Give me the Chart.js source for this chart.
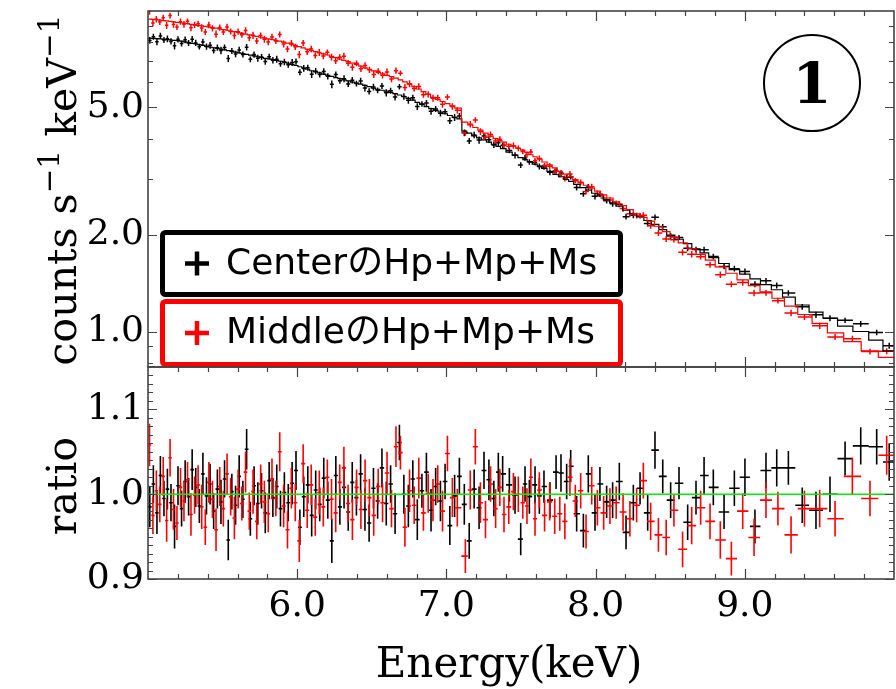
<!DOCTYPE html>
<html>
<head>
<meta charset="utf-8">
<script src="https://cdn.jsdelivr.net/npm/chart.js@4.4.1/dist/chart.umd.min.js"></script>
<style>
  html, body { margin: 0; padding: 0; background: #fff; }
  #wrap { position: relative; width: 896px; height: 689px; }
  #spec { position: absolute; left: 0; top: 0; }
  #ratio { position: absolute; left: 0; top: 362px; }
</style>
</head>
<body>
<div id="wrap">
  <canvas id="spec" width="896" height="369"></canvas>
  <canvas id="ratio" width="896" height="327"></canvas>
</div>
<script>
// axis ticks
const energyTicks = [6, 7, 8, 9];
const energyMinor = [5.2, 5.4, 5.6, 5.8, 6.2, 6.4, 6.6, 6.8, 7.2, 7.4, 7.6, 7.8,
                     8.2, 8.4, 8.6, 8.8, 9.2, 9.4, 9.6, 9.8];
const countTicks = [1, 2, 5];
const countMinor = [0.8, 0.9, 3, 4, 6, 7, 8, 9];
const ratioTicks = [0.9, 1.0, 1.1];
const ratioMinor = [0.91, 0.92, 0.93, 0.94, 0.95, 0.96, 0.97, 0.98, 0.99,
                    1.01, 1.02, 1.03, 1.04, 1.05, 1.06, 1.07, 1.08, 1.09,
                    1.11, 1.12, 1.13, 1.14];
const energyRange = [5, 10];
const unity = 1.0;

const seriesNames = ['CenterのHp+Mp+Ms', 'MiddleのHp+Mp+Ms'];

// Center region: bin centres (keV), model (counts/s/keV), data/model ratio, ratio error
const blackE = [
  5.012, 5.036, 5.060, 5.083, 5.107, 5.130, 5.154, 5.178, 5.201, 5.225,
  5.249, 5.272, 5.296, 5.320, 5.344, 5.368, 5.392, 5.416, 5.440, 5.465,
  5.489, 5.513, 5.538, 5.562, 5.587, 5.611, 5.636, 5.661, 5.686, 5.711,
  5.736, 5.761, 5.786, 5.812, 5.837, 5.863, 5.888, 5.914, 5.940, 5.966,
  5.992, 6.018, 6.044, 6.071, 6.097, 6.124, 6.151, 6.178, 6.205, 6.232,
  6.259, 6.286, 6.314, 6.342, 6.369, 6.397, 6.425, 6.454, 6.482, 6.511,
  6.539, 6.568, 6.597, 6.626, 6.656, 6.685, 6.715, 6.745, 6.775, 6.805,
  6.836, 6.866, 6.897, 6.928, 6.960, 6.991, 7.023, 7.055, 7.087, 7.120,
  7.153, 7.186, 7.219, 7.252, 7.285, 7.318, 7.348,
  7.377, 7.422, 7.460, 7.498, 7.527, 7.556, 7.594, 7.623, 7.654, 7.694,
  7.735, 7.768, 7.806, 7.833, 7.873, 7.918, 7.951, 7.996, 8.029, 8.074,
  8.114, 8.159, 8.204, 8.253, 8.298, 8.349, 8.398, 8.450, 8.503, 8.559,
  8.617, 8.673, 8.727, 8.789, 8.861, 8.930, 9.001, 9.068, 9.142, 9.214,
  9.292, 9.385, 9.477, 9.571, 9.672, 9.777, 9.884, 9.968
];
const blackModel = [
  8.22, 8.21, 8.20, 8.18, 8.16, 8.14, 8.12, 8.10, 8.08, 8.05,
  8.01, 7.97, 7.93, 7.89, 7.85, 7.81, 7.76, 7.72, 7.68, 7.64,
  7.60, 7.56, 7.52, 7.48, 7.44, 7.40, 7.36, 7.32, 7.28, 7.24,
  7.20, 7.16, 7.12, 7.09, 7.05, 7.01, 6.97, 6.92, 6.87, 6.82,
  6.76, 6.70, 6.64, 6.58, 6.51, 6.46, 6.41, 6.35, 6.30, 6.25,
  6.20, 6.15, 6.10, 6.05, 6.00, 5.96, 5.91, 5.86, 5.81, 5.75,
  5.70, 5.66, 5.62, 5.57, 5.52, 5.47, 5.41, 5.34, 5.27, 5.19,
  5.11, 5.03, 4.96, 4.90, 4.84, 4.78, 4.72, 4.66, 4.61, 4.22,
  4.16, 4.08, 4.02, 3.96, 3.90, 3.84, 3.78,
  3.72, 3.63, 3.55, 3.49, 3.44, 3.39, 3.33, 3.28, 3.23, 3.16,
  3.09, 3.04, 2.98, 2.94, 2.88, 2.81, 2.76, 2.70, 2.65, 2.58,
  2.52, 2.46, 2.39, 2.33, 2.28, 2.22, 2.16, 2.08, 2.00, 1.94,
  1.88, 1.81, 1.76, 1.70, 1.63, 1.56, 1.51, 1.46, 1.40, 1.35,
  1.28, 1.21, 1.15, 1.10, 1.04, 1.00, 0.94, 0.87
];
const blackRatio = [
  0.985, 1.012, 0.978, 1.022, 0.995, 1.006, 0.990, 0.962, 1.010, 0.983,
  1.015, 0.997, 1.029, 1.008, 0.986, 1.024, 0.998, 1.012, 0.980, 1.006,
  0.991, 1.018, 0.946, 1.003, 0.987, 1.021, 0.994, 1.053, 0.971, 1.010,
  0.989, 1.004, 0.978, 1.016, 0.996, 1.009, 0.983, 1.002, 0.990, 1.013,
  1.028, 0.961, 0.997, 1.011, 0.975, 1.005, 0.988, 1.019, 0.993, 0.945,
  1.022, 0.985, 1.008, 0.979, 1.014, 0.996, 1.024, 0.982, 0.966, 1.007,
  0.992, 1.031, 0.989, 1.012, 0.977, 1.061, 1.000, 0.986, 1.018, 0.970,
  1.004, 1.026, 0.981, 1.009, 0.992, 1.015, 0.963, 0.998, 1.021, 0.988,
  0.945, 1.006, 0.984, 1.028, 1.017, 0.995, 1.026,
  1.024, 1.011, 0.999, 0.947, 1.012, 0.997, 1.011, 0.998, 1.009, 0.993,
  1.026, 1.025, 1.015, 1.033, 0.977, 0.957, 1.024, 0.978, 1.012, 0.991,
  0.993, 1.015, 0.955, 0.990, 1.007, 0.978, 1.052, 1.021, 0.993, 1.013,
  0.967, 0.996, 1.022, 1.008, 0.979, 1.007, 1.020, 0.962, 1.028, 1.031,
  1.031, 0.987, 0.981, 1.000, 1.042, 1.057, 1.056, 1.038
];
const blackErr = [
  0.024, 0.022, 0.025, 0.023, 0.021, 0.024, 0.022, 0.026, 0.023, 0.021,
  0.025, 0.022, 0.024, 0.023, 0.020, 0.025, 0.022, 0.024, 0.021, 0.023,
  0.026, 0.022, 0.024, 0.021, 0.023, 0.025, 0.022, 0.024, 0.020, 0.023,
  0.025, 0.021, 0.024, 0.022, 0.023, 0.026, 0.021, 0.024, 0.022, 0.025,
  0.023, 0.021, 0.024, 0.022, 0.025, 0.023, 0.020, 0.024, 0.022, 0.026,
  0.023, 0.021, 0.025, 0.022, 0.024, 0.021, 0.023, 0.025, 0.022, 0.024,
  0.021, 0.023, 0.026, 0.022, 0.024, 0.021, 0.023, 0.025, 0.022, 0.024,
  0.020, 0.023, 0.025, 0.022, 0.024, 0.021, 0.023, 0.025, 0.022, 0.024,
  0.021, 0.023, 0.025, 0.022, 0.024, 0.021, 0.023,
  0.021, 0.020, 0.022, 0.019, 0.021, 0.020, 0.022, 0.021, 0.019, 0.021,
  0.020, 0.022, 0.021, 0.019, 0.021, 0.020, 0.022, 0.021, 0.020, 0.019,
  0.021, 0.022, 0.020, 0.021, 0.019, 0.021, 0.022, 0.020, 0.021, 0.019,
  0.021, 0.020, 0.022, 0.021, 0.020, 0.021, 0.022, 0.020, 0.021, 0.022,
  0.020, 0.021, 0.022, 0.021, 0.020, 0.022, 0.021, 0.022
];

// Middle region
const redE = [
  5.010, 5.033, 5.056, 5.079, 5.102, 5.125, 5.148, 5.171, 5.194, 5.218,
  5.241, 5.265, 5.288, 5.312, 5.336, 5.360, 5.384, 5.408, 5.432, 5.456,
  5.481, 5.505, 5.530, 5.554, 5.579, 5.604, 5.629, 5.654, 5.679, 5.704,
  5.729, 5.755, 5.780, 5.806, 5.831, 5.857, 5.883, 5.909, 5.935, 5.961,
  5.987, 6.014, 6.040, 6.067, 6.094, 6.121, 6.148, 6.175, 6.202, 6.230,
  6.258, 6.285, 6.313, 6.341, 6.370, 6.398, 6.427, 6.455, 6.484, 6.513,
  6.543, 6.572, 6.602, 6.632, 6.662, 6.692, 6.722, 6.753, 6.784, 6.815,
  6.846, 6.878, 6.910, 6.942, 6.974, 7.007, 7.040, 7.073,
  7.127, 7.160, 7.194, 7.228, 7.262, 7.296, 7.330, 7.358,
  7.386, 7.418, 7.449, 7.482, 7.512, 7.540, 7.566, 7.594, 7.623, 7.658,
  7.692, 7.726, 7.760, 7.794, 7.828, 7.864, 7.900, 7.936, 7.974, 8.012,
  8.054, 8.096, 8.138, 8.184, 8.230, 8.275, 8.320, 8.369, 8.421, 8.473,
  8.525, 8.583, 8.644, 8.704, 8.767, 8.836, 8.910, 8.986, 9.062, 9.142,
  9.222, 9.310, 9.400, 9.502, 9.605, 9.721, 9.839, 9.951
];
const redModel = [
  9.43, 9.41, 9.39, 9.36, 9.33, 9.31, 9.28, 9.25, 9.22, 9.19,
  9.16, 9.13, 9.09, 9.06, 9.02, 8.99, 8.95, 8.92, 8.88, 8.84,
  8.80, 8.75, 8.71, 8.66, 8.62, 8.57, 8.52, 8.47, 8.42, 8.37,
  8.33, 8.28, 8.24, 8.19, 8.15, 8.10, 8.05, 8.00, 7.94, 7.88,
  7.81, 7.74, 7.67, 7.60, 7.53, 7.47, 7.41, 7.35, 7.29, 7.22,
  7.15, 7.08, 7.01, 6.95, 6.88, 6.81, 6.73, 6.65, 6.58, 6.50,
  6.43, 6.37, 6.30, 6.24, 6.17, 6.10, 6.01, 5.91, 5.81, 5.71,
  5.60, 5.49, 5.38, 5.30, 5.22, 5.14, 5.06, 4.98,
  4.50, 4.41, 4.33, 4.25, 4.16, 4.07, 4.00, 3.95,
  3.90, 3.84, 3.79, 3.73, 3.68, 3.62, 3.56, 3.51, 3.45, 3.38,
  3.31, 3.24, 3.16, 3.10, 3.04, 2.98, 2.91, 2.86, 2.80, 2.74,
  2.67, 2.61, 2.54, 2.47, 2.40, 2.33, 2.27, 2.21, 2.13, 2.05,
  1.97, 1.89, 1.81, 1.74, 1.67, 1.59, 1.52, 1.45, 1.39, 1.33,
  1.27, 1.20, 1.13, 1.06, 0.99, 0.93, 0.87, 0.83
];
const redRatio = [
  1.058, 0.975, 1.004, 0.988, 1.021, 0.969, 1.043, 0.982, 0.966, 1.008,
  0.992, 1.017, 0.976, 0.999, 1.011, 0.985, 0.961, 1.014, 0.994, 0.958,
  1.009, 0.983, 1.024, 0.997, 0.972, 1.006, 0.989, 1.026, 0.980, 1.003,
  0.968, 1.012, 0.991, 0.977, 1.018, 0.995, 1.050, 0.986, 0.958, 1.007,
  0.990, 0.945, 1.036, 0.981, 1.011, 0.973, 1.002, 0.985, 1.020, 0.994,
  0.978, 1.014, 1.031, 0.989, 0.970, 1.008, 0.982, 1.016, 0.996, 0.975,
  1.009, 0.990, 1.025, 0.983, 1.056, 1.049, 0.961, 1.004, 0.987, 1.019,
  0.978, 1.001, 0.993, 1.012, 0.980, 1.048, 0.996, 0.984,
  0.927, 1.005, 1.056, 0.990, 0.970, 1.012, 0.983, 1.008,
  0.976, 0.985, 1.003, 1.000, 0.990, 0.986, 1.020, 0.971, 1.005, 0.975,
  0.991, 0.974, 0.977, 0.968, 1.020, 0.992, 1.004, 0.956, 1.010, 0.984,
  0.978, 0.986, 0.990, 0.979, 0.971, 0.987, 1.016, 0.968, 0.952, 0.949,
  0.981, 0.935, 0.963, 0.984, 0.968, 0.946, 0.924, 0.980, 0.949, 0.993,
  0.983, 0.952, 0.983, 0.983, 0.971, 1.021, 0.995, 1.046
];
const redErr = [
  0.025, 0.022, 0.024, 0.021, 0.023, 0.025, 0.022, 0.024, 0.020, 0.023,
  0.024, 0.021, 0.025, 0.022, 0.023, 0.026, 0.021, 0.024, 0.022, 0.025,
  0.023, 0.021, 0.024, 0.022, 0.025, 0.023, 0.020, 0.024, 0.022, 0.026,
  0.021, 0.023, 0.025, 0.022, 0.024, 0.021, 0.023, 0.025, 0.022, 0.024,
  0.022, 0.025, 0.023, 0.021, 0.024, 0.022, 0.026, 0.023, 0.021, 0.024,
  0.023, 0.021, 0.025, 0.022, 0.024, 0.021, 0.023, 0.025, 0.022, 0.024,
  0.021, 0.023, 0.025, 0.022, 0.024, 0.020, 0.023, 0.025, 0.022, 0.024,
  0.021, 0.023, 0.025, 0.022, 0.024, 0.021, 0.023, 0.022,
  0.020, 0.023, 0.021, 0.024, 0.022, 0.021, 0.023, 0.022,
  0.021, 0.020, 0.022, 0.021, 0.019, 0.021, 0.022, 0.020, 0.021, 0.019,
  0.022, 0.021, 0.020, 0.021, 0.022, 0.019, 0.021, 0.020, 0.022, 0.021,
  0.020, 0.021, 0.019, 0.022, 0.021, 0.020, 0.021, 0.022, 0.020, 0.021,
  0.019, 0.021, 0.022, 0.020, 0.021, 0.022, 0.020, 0.021, 0.022, 0.021,
  0.020, 0.022, 0.021, 0.022, 0.021, 0.022, 0.021, 0.023
];

const BLACK = '#000000';
const RED = '#ff0000';
const GREEN = '#00ee00';
const FRAME = '#444444';
const SERIF = '"DejaVu Serif", "Liberation Serif", serif';
const SANS = '"DejaVu Sans", "Noto Sans CJK JP", sans-serif';

// bin edges halfway between neighbouring centres
function binEdges(c) {
  const e = [];
  for (let i = 1; i < c.length; i++) e.push((c[i - 1] + c[i]) / 2);
  e.unshift(2 * c[0] - e[0]);
  e.push(2 * c[c.length - 1] - e[e.length - 1]);
  return e;
}

function buildSeries(E, model, ratio, err) {
  const e = binEdges(E);
  const step = E.map((c, i) => ({ x: e[i], y: model[i] }));
  step.push({ x: e[E.length], y: model[E.length - 1] });
  const spec = E.map((c, i) => ({
    x: c, y: model[i] * ratio[i], xl: e[i], xh: e[i + 1],
    yl: model[i] * (ratio[i] - err[i]), yh: model[i] * (ratio[i] + err[i])
  }));
  const rat = E.map((c, i) => ({
    x: c, y: ratio[i], xl: e[i], xh: e[i + 1],
    yl: ratio[i] - err[i], yh: ratio[i] + err[i]
  }));
  return { step, spec, rat };
}

const center = buildSeries(blackE, blackModel, blackRatio, blackErr);
const middle = buildSeries(redE, redModel, redRatio, redErr);

// crosses: bin width horizontally, error vertically
const errorBars = {
  id: 'errorBars',
  beforeDatasetsDraw(chart) {
    const { ctx, chartArea: a } = chart;
    const xs = chart.scales.x, ys = chart.scales.y;
    ctx.save();
    ctx.beginPath();
    ctx.rect(a.left, a.top, a.right - a.left, a.bottom - a.top);
    ctx.clip();
    chart.data.datasets.forEach(ds => {
      if (!ds.crosses) return;
      ctx.strokeStyle = ds.crossColor;
      ctx.lineWidth = ds.crossWidth;
      ctx.beginPath();
      for (const p of ds.data) {
        const px = xs.getPixelForValue(p.x), py = ys.getPixelForValue(p.y);
        ctx.moveTo(xs.getPixelForValue(p.xl), py);
        ctx.lineTo(xs.getPixelForValue(p.xh), py);
        ctx.moveTo(px, ys.getPixelForValue(p.yl));
        ctx.lineTo(px, ys.getPixelForValue(p.yh));
      }
      ctx.stroke();
    });
    ctx.restore();
  }
};

// box round the plot with inward ticks on all four sides
const frameTicks = {
  id: 'frameTicks',
  afterDraw(chart, args, o) {
    const { ctx, chartArea: a } = chart;
    const xs = chart.scales.x, ys = chart.scales.y;
    ctx.save();
    ctx.strokeStyle = FRAME;
    ctx.lineWidth = 1.2;
    ctx.beginPath();
    const xt = (list, len) => list.forEach(v => {
      const px = Math.round(xs.getPixelForValue(v)) + 0.5;
      ctx.moveTo(px, a.top); ctx.lineTo(px, a.top + len);
      ctx.moveTo(px, a.bottom); ctx.lineTo(px, a.bottom - len);
    });
    const yt = (list, len) => list.forEach(v => {
      const py = Math.round(ys.getPixelForValue(v)) + 0.5;
      ctx.moveTo(a.left, py); ctx.lineTo(a.left + len, py);
      ctx.moveTo(a.right, py); ctx.lineTo(a.right - len, py);
    });
    xt(energyTicks, 10);
    xt(energyMinor, 5);
    yt(o.major, 9);
    yt(o.minor, 5);
    ctx.stroke();
    ctx.lineWidth = 1.6;
    ctx.strokeRect(a.left, a.top, a.right - a.left, a.bottom - a.top);
    ctx.restore();
  }
};

// text with raised parts, written upwards when rotated
function drawRich(ctx, parts, size) {
  let w = 0;
  const runs = parts.map(p => {
    const fs = p.sup ? size * 0.72 : size;
    ctx.font = fs + 'px ' + SERIF;
    const run = { t: p.t, fs, dy: p.sup ? -size * 0.42 : 0, w: ctx.measureText(p.t).width };
    w += run.w;
    return run;
  });
  let x = -w / 2;
  ctx.textBaseline = 'alphabetic';
  ctx.textAlign = 'left';
  for (const r of runs) {
    ctx.font = r.fs + 'px ' + SERIF;
    ctx.fillText(r.t, x, r.dy);
    x += r.w;
  }
}

const axisTitles = {
  id: 'axisTitles',
  afterDraw(chart, args, o) {
    const { ctx } = chart;
    ctx.save();
    ctx.fillStyle = '#000';
    for (const t of o.items) {
      ctx.save();
      ctx.translate(t.x, t.y);
      if (t.vertical) ctx.rotate(-Math.PI / 2);
      drawRich(ctx, t.parts, t.size);
      ctx.restore();
    }
    ctx.restore();
  }
};

// two boxed legend entries and the circled panel number
const specDecor = {
  id: 'specDecor',
  afterDraw(chart) {
    const { ctx, chartArea: a } = chart;
    ctx.save();
    const colors = [BLACK, RED];
    const boxes = [{ top: 232.5, h: 62 }, { top: 301.5, h: 63 }];
    boxes.forEach((b, i) => {
      ctx.fillStyle = '#fff';
      ctx.strokeStyle = colors[i];
      ctx.lineWidth = 5;
      ctx.beginPath();
      ctx.roundRect(162.5, b.top, 458, b.h, 3);
      ctx.fill();
      ctx.stroke();
      const cy = b.top + b.h / 2;
      ctx.lineWidth = 4.5;
      ctx.beginPath();
      ctx.moveTo(185, cy); ctx.lineTo(209, cy);
      ctx.moveTo(197, cy - 12); ctx.lineTo(197, cy + 12);
      ctx.stroke();
      ctx.fillStyle = '#000';
      ctx.font = '36px ' + SANS;
      ctx.textAlign = 'left';
      ctx.textBaseline = 'middle';
      ctx.fillText(seriesNames[i], 226, cy + 1);
    });
    // circled "1"
    const cx = a.right - 82, cy = a.top + 72;
    ctx.strokeStyle = '#000';
    ctx.lineWidth = 2;
    ctx.beginPath();
    ctx.arc(cx, cy, 48, 0, Math.PI * 2);
    ctx.stroke();
    ctx.fillStyle = '#000';
    ctx.font = 'bold 56px ' + SERIF;
    ctx.textAlign = 'center';
    ctx.textBaseline = 'alphabetic';
    ctx.fillText('1', cx, cy + 20);
    ctx.restore();
  }
};

const tickFont = { family: SERIF, size: 36 };

// keep tick labels from pushing the plot area in
function noLabelPadding(s) {
  s.paddingTop = 0; s.paddingBottom = 0; s.paddingLeft = 0; s.paddingRight = 0;
}

function crossSet(data, color, width) {
  return { type: 'scatter', data, pointRadius: 0, pointHoverRadius: 0, showLine: false,
           crosses: true, crossColor: color, crossWidth: width };
}
function stepSet(data, color) {
  return { type: 'line', data, stepped: true, borderColor: color, borderWidth: 1.2,
           pointRadius: 0, fill: false, tension: 0 };
}

// upper panel: counts spectrum on log scale
new Chart(document.getElementById('spec'), {
  type: 'scatter',
  data: {
    datasets: [
      stepSet(middle.step, RED),
      stepSet(center.step, BLACK),
      crossSet(center.spec, BLACK, 1.5),
      crossSet(middle.spec, RED, 1.5)
    ]
  },
  options: {
    responsive: false,
    animation: false,
    devicePixelRatio: 1,
    layout: { padding: { top: 11, right: 2, bottom: 2, left: 0 } },
    plugins: {
      legend: { display: false },
      tooltip: { enabled: false },
      frameTicks: { major: countTicks, minor: countMinor },
      axisTitles: {
        items: [{ x: 76, y: 190, vertical: true, size: 41,
                  parts: [{ t: 'counts s' }, { t: '\u22121', sup: true }, { t: ' keV' }, { t: '\u22121', sup: true }] }]
      }
    },
    scales: {
      x: { type: 'linear', min: energyRange[0], max: energyRange[1], display: false },
      y: {
        type: 'logarithmic', min: 0.775, max: 10,
        grid: { display: false, drawTicks: false },
        border: { display: false },
        ticks: { font: tickFont, color: '#000', padding: 4, autoSkip: false,
                 callback: v => Number(v).toFixed(1) },
        afterBuildTicks: s => { s.ticks = countTicks.map(v => ({ value: v })); },
        afterFit: s => { s.width = 148; noLabelPadding(s); }
      }
    }
  },
  plugins: [errorBars, frameTicks, axisTitles, specDecor]
});

// lower panel: data / model
new Chart(document.getElementById('ratio'), {
  type: 'scatter',
  data: {
    datasets: [
      { type: 'line', data: energyRange.map(x => ({ x, y: unity })), borderColor: GREEN,
        borderWidth: 1.6, pointRadius: 0, fill: false },
      crossSet(center.rat, BLACK, 1.6),
      crossSet(middle.rat, RED, 1.6)
    ]
  },
  options: {
    responsive: false,
    animation: false,
    devicePixelRatio: 1,
    layout: { padding: { top: 5, right: 2, bottom: 0, left: 0 } },
    plugins: {
      legend: { display: false },
      tooltip: { enabled: false },
      frameTicks: { major: ratioTicks, minor: ratioMinor },
      axisTitles: {
        items: [
          { x: 76, y: 124, vertical: true, size: 41, parts: [{ t: 'ratio' }] },
          { x: 509, y: 315, vertical: false, size: 42, parts: [{ t: 'Energy(keV)' }] }
        ]
      }
    },
    scales: {
      x: {
        type: 'linear', min: energyRange[0], max: energyRange[1],
        grid: { display: false, drawTicks: false },
        border: { display: false },
        ticks: { font: tickFont, color: '#000', padding: 6, autoSkip: false, maxRotation: 0,
                 callback: v => Number(v).toFixed(1) },
        afterBuildTicks: s => { s.ticks = energyTicks.map(v => ({ value: v })); },
        afterFit: s => { s.height = 110; noLabelPadding(s); }
      },
      y: {
        type: 'linear', min: 0.9, max: 1.15,
        grid: { display: false, drawTicks: false },
        border: { display: false },
        ticks: { font: tickFont, color: '#000', padding: 4, autoSkip: false,
                 callback: v => Number(v).toFixed(1) },
        afterBuildTicks: s => { s.ticks = ratioTicks.map(v => ({ value: v })); },
        afterFit: s => { s.width = 148; noLabelPadding(s); }
      }
    }
  },
  plugins: [errorBars, frameTicks, axisTitles]
});
</script>
</body>
</html>
